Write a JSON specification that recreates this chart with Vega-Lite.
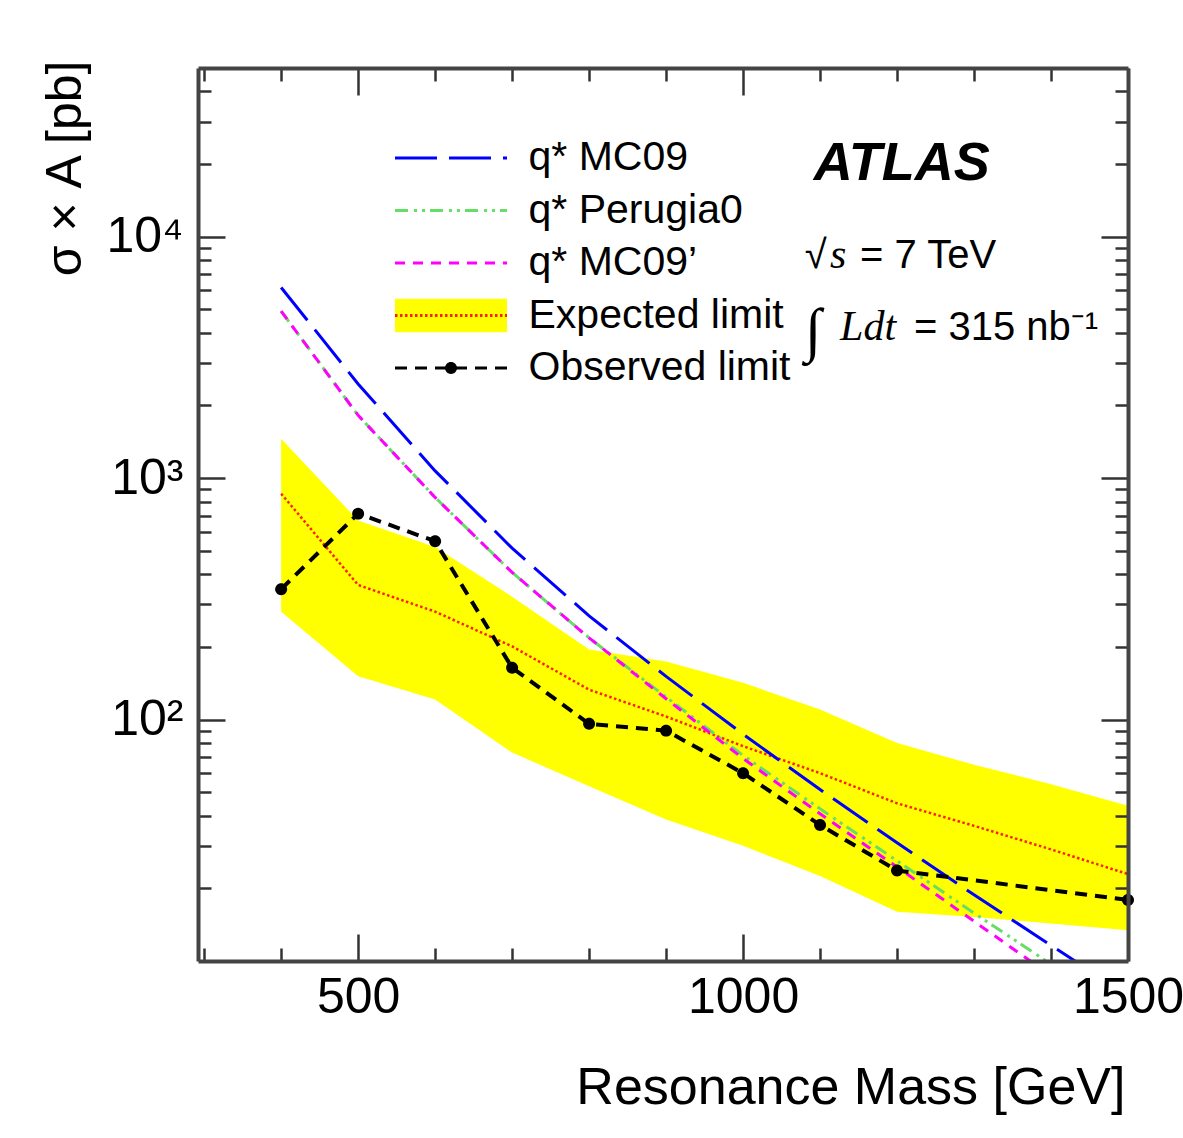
{
  "$schema": "https://vega.github.io/schema/vega-lite/v6.json",
  "width": 930,
  "height": 893,
  "autosize": {"type": "none"},
  "padding": {"left": 198, "top": 68, "right": 55, "bottom": 177},
  "background": "white",
  "config": {"view": {"stroke": null}, "font": "Liberation Sans"},
  "datasets": {
    "band": [
      {"m": 400, "lo": 280, "hi": 1455, "series": "Expected limit"},
      {"m": 500, "lo": 151, "hi": 668, "series": "Expected limit"},
      {"m": 600, "lo": 121, "hi": 519, "series": "Expected limit"},
      {"m": 700, "lo": 73, "hi": 323, "series": "Expected limit"},
      {"m": 800, "lo": 53, "hi": 195, "series": "Expected limit"},
      {"m": 900, "lo": 38.6, "hi": 174, "series": "Expected limit"},
      {"m": 1000, "lo": 30, "hi": 142, "series": "Expected limit"},
      {"m": 1100, "lo": 22.5, "hi": 110, "series": "Expected limit"},
      {"m": 1200, "lo": 16, "hi": 80, "series": "Expected limit"},
      {"m": 1300, "lo": 15.2, "hi": 65, "series": "Expected limit"},
      {"m": 1400, "lo": 14.3, "hi": 54, "series": "Expected limit"},
      {"m": 1500, "lo": 13.4, "hi": 44, "series": "Expected limit"}
    ],
    "lines": [
      {"m": 400, "sigma": 6166, "series": "q* MC09"},
      {"m": 500, "sigma": 2455, "series": "q* MC09"},
      {"m": 600, "sigma": 1072, "series": "q* MC09"},
      {"m": 700, "sigma": 513, "series": "q* MC09"},
      {"m": 800, "sigma": 269, "series": "q* MC09"},
      {"m": 900, "sigma": 151, "series": "q* MC09"},
      {"m": 1000, "sigma": 87, "series": "q* MC09"},
      {"m": 1100, "sigma": 51.3, "series": "q* MC09"},
      {"m": 1200, "sigma": 30.9, "series": "q* MC09"},
      {"m": 1300, "sigma": 18.8, "series": "q* MC09"},
      {"m": 1400, "sigma": 11.6, "series": "q* MC09"},
      {"m": 1500, "sigma": 7.2, "series": "q* MC09"},
      {"m": 400, "sigma": 4920, "series": "q* Perugia0"},
      {"m": 500, "sigma": 1820, "series": "q* Perugia0"},
      {"m": 600, "sigma": 832, "series": "q* Perugia0"},
      {"m": 700, "sigma": 407, "series": "q* Perugia0"},
      {"m": 800, "sigma": 218, "series": "q* Perugia0"},
      {"m": 900, "sigma": 124, "series": "q* Perugia0"},
      {"m": 1000, "sigma": 71, "series": "q* Perugia0"},
      {"m": 1100, "sigma": 42.7, "series": "q* Perugia0"},
      {"m": 1200, "sigma": 26, "series": "q* Perugia0"},
      {"m": 1300, "sigma": 15.8, "series": "q* Perugia0"},
      {"m": 1400, "sigma": 9.7, "series": "q* Perugia0"},
      {"m": 1500, "sigma": 5.9, "series": "q* Perugia0"},
      {"m": 400, "sigma": 4920, "series": "q* MC09’"},
      {"m": 500, "sigma": 1820, "series": "q* MC09’"},
      {"m": 600, "sigma": 832, "series": "q* MC09’"},
      {"m": 700, "sigma": 407, "series": "q* MC09’"},
      {"m": 800, "sigma": 218, "series": "q* MC09’"},
      {"m": 900, "sigma": 122, "series": "q* MC09’"},
      {"m": 1000, "sigma": 69, "series": "q* MC09’"},
      {"m": 1100, "sigma": 40.7, "series": "q* MC09’"},
      {"m": 1200, "sigma": 24.5, "series": "q* MC09’"},
      {"m": 1300, "sigma": 14.6, "series": "q* MC09’"},
      {"m": 1400, "sigma": 8.7, "series": "q* MC09’"},
      {"m": 1500, "sigma": 5.25, "series": "q* MC09’"},
      {"m": 400, "sigma": 862, "series": "Expected limit"},
      {"m": 500, "sigma": 361, "series": "Expected limit"},
      {"m": 600, "sigma": 280, "series": "Expected limit"},
      {"m": 700, "sigma": 201, "series": "Expected limit"},
      {"m": 800, "sigma": 133, "series": "Expected limit"},
      {"m": 900, "sigma": 103, "series": "Expected limit"},
      {"m": 1000, "sigma": 77.6, "series": "Expected limit"},
      {"m": 1100, "sigma": 60, "series": "Expected limit"},
      {"m": 1200, "sigma": 45, "series": "Expected limit"},
      {"m": 1300, "sigma": 36.3, "series": "Expected limit"},
      {"m": 1400, "sigma": 29, "series": "Expected limit"},
      {"m": 1500, "sigma": 22.9, "series": "Expected limit"},
      {"m": 400, "sigma": 347, "series": "Observed limit"},
      {"m": 500, "sigma": 713, "series": "Observed limit"},
      {"m": 600, "sigma": 548, "series": "Observed limit"},
      {"m": 700, "sigma": 164, "series": "Observed limit"},
      {"m": 800, "sigma": 96, "series": "Observed limit"},
      {"m": 900, "sigma": 90, "series": "Observed limit"},
      {"m": 1000, "sigma": 60, "series": "Observed limit"},
      {"m": 1100, "sigma": 36.6, "series": "Observed limit"},
      {"m": 1200, "sigma": 23.7, "series": "Observed limit"},
      {"m": 1500, "sigma": 17.9, "series": "Observed limit"}
    ]
  },
  "layer": [
    {
      "data": {"name": "band"},
      "mark": {"type": "area", "opacity": 1},
      "encoding": {
        "x": {
          "field": "m", "type": "quantitative",
          "scale": {"domain": [292, 1500], "nice": false, "zero": false},
          "axis": {
            "orient": "bottom",
            "values": [300, 400, 500, 600, 700, 800, 900, 1000, 1100, 1200, 1300, 1400, 1500],
            "labelExpr": "datum.value % 500 === 0 ? '' + datum.value : ''",
            "tickSize": {"condition": {"test": "datum.value % 500 === 0", "value": -27}, "value": -13},
            "tickColor": "#333333", "tickWidth": 2.5,
            "labelPadding": 38, "labelFont": "Liberation Sans", "labelFontSize": 50, "labelColor": "#000000",
            "labelFlush": false, "labelOverlap": false, "labelBound": false,
            "domain": true, "domainColor": "#444444", "domainWidth": 4,
            "grid": false, "zindex": 1,
            "title": "Resonance Mass [GeV]",
            "titleFont": "Liberation Sans", "titleFontSize": 52, "titleFontWeight": "normal", "titleColor": "#000000",
            "titleX": 927, "titleY": 142, "titleAlign": "right", "titleBaseline": "alphabetic", "titleAngle": 0
          }
        },
        "y": {
          "field": "lo", "type": "quantitative",
          "scale": {"type": "log", "domain": [10, 50000], "nice": false},
          "axis": {
            "orient": "left",
            "values": [20, 30, 40, 50, 60, 70, 80, 90, 100, 200, 300, 400, 500, 600, 700, 800, 900, 1000, 2000, 3000, 4000, 5000, 6000, 7000, 8000, 9000, 10000, 20000, 30000, 40000],
            "labelExpr": "datum.value === 100 ? '10\u00b2' : datum.value === 1000 ? '10\u00b3' : datum.value === 10000 ? '10\u2074' : ''",
            "tickSize": {"condition": {"test": "datum.value === 100 || datum.value === 1000 || datum.value === 10000", "value": -27}, "value": -13},
            "tickColor": "#333333", "tickWidth": 2.5,
            "labelPadding": 42, "labelFont": "Liberation Sans", "labelFontSize": 50, "labelColor": "#000000",
            "labelFlush": false, "labelOverlap": false, "labelBound": false,
            "domain": true, "domainColor": "#444444", "domainWidth": 4,
            "grid": false, "zindex": 1,
            "title": "σ × A [pb]",
            "titleFont": "Liberation Sans", "titleFontSize": 50, "titleFontWeight": "normal", "titleColor": "#000000",
            "titleX": -118, "titleY": -8, "titleAlign": "right", "titleBaseline": "alphabetic", "titleAngle": -90
          }
        },
        "y2": {"field": "hi"},
        "fill": {
          "field": "series", "type": "nominal",
          "scale": {"domain": ["Expected limit", "Observed limit"], "range": ["#ffff00", "#000000"]},
          "legend": {
            "orient": "none", "legendX": 197, "legendY": 226.5, "title": null, "padding": 0,
            "symbolSize": 12544, "symbolStrokeWidth": 0, "clipHeight": 42, "rowPadding": 10.5,
            "labelFontSize": 41, "labelOpacity": 0, "labelExpr": "''", "labelOffset": 19, "zindex": 1
          }
        }
      }
    },
    {
      "data": {"name": "lines"},
      "encoding": {
        "x": {
          "field": "m", "type": "quantitative",
          "axis": {
            "orient": "top",
            "values": [300, 400, 500, 600, 700, 800, 900, 1000, 1100, 1200, 1300, 1400, 1500],
            "labels": false,
            "tickSize": {"condition": {"test": "datum.value % 500 === 0", "value": -27}, "value": -13},
            "tickColor": "#333333", "tickWidth": 2.5,
            "domain": true, "domainColor": "#444444", "domainWidth": 4,
            "grid": false, "zindex": 1, "title": null
          }
        },
        "y": {
          "field": "sigma", "type": "quantitative",
          "axis": {
            "orient": "right",
            "values": [20, 30, 40, 50, 60, 70, 80, 90, 100, 200, 300, 400, 500, 600, 700, 800, 900, 1000, 2000, 3000, 4000, 5000, 6000, 7000, 8000, 9000, 10000, 20000, 30000, 40000],
            "labels": false,
            "tickSize": {"condition": {"test": "datum.value === 100 || datum.value === 1000 || datum.value === 10000", "value": -27}, "value": -13},
            "tickColor": "#333333", "tickWidth": 2.5,
            "domain": true, "domainColor": "#444444", "domainWidth": 4,
            "grid": false, "zindex": 1, "title": null
          }
        },
        "color": {
          "field": "series", "type": "nominal",
          "scale": {
            "domain": ["q* MC09", "q* Perugia0", "q* MC09’", "Expected limit", "Observed limit"],
            "range": ["#0000ff", "#66dd66", "#ff00ff", "#ff2000", "#000000"]
          },
          "legend": {
            "orient": "none", "legendX": 195.5, "legendY": 69, "title": null, "padding": 0,
            "symbolType": "stroke", "symbolSize": 12544, "symbolStrokeWidth": 3, "clipHeight": 42, "rowPadding": 10.5,
            "labelFont": "Liberation Sans", "labelFontSize": 41, "labelColor": "#000000", "labelOffset": 20, "labelLimit": 0,
            "zindex": 2
          }
        },
        "strokeDash": {
          "field": "series", "type": "nominal",
          "scale": {
            "domain": ["q* MC09", "q* Perugia0", "q* MC09’", "Expected limit", "Observed limit"],
            "range": [[42, 12], [13, 6, 3, 5, 3, 5], [10, 8], [2.5, 2.5], [12, 8]]
          },
          "legend": {
            "orient": "none", "legendX": 195.5, "legendY": 69, "title": null, "padding": 0,
            "symbolType": "stroke", "symbolSize": 12544, "symbolStrokeWidth": 3, "clipHeight": 42, "rowPadding": 10.5,
            "labelFont": "Liberation Sans", "labelFontSize": 41, "labelColor": "#000000", "labelOffset": 20, "labelLimit": 0,
            "zindex": 2
          }
        }
      },
      "layer": [
        {
          "transform": [{"filter": "datum.series === 'Expected limit'"}],
          "mark": {"type": "line", "strokeWidth": 2.5, "clip": true}
        },
        {
          "transform": [{"filter": "datum.series !== 'Expected limit' && datum.series !== 'Observed limit'"}],
          "mark": {"type": "line", "strokeWidth": 3, "clip": true}
        },
        {
          "transform": [{"filter": "datum.series === 'Observed limit'"}],
          "mark": {"type": "line", "strokeWidth": 4, "clip": true}
        }
      ]
    },
    {
      "data": {"name": "lines"},
      "transform": [{"filter": "datum.series === 'Observed limit'"}],
      "mark": {"type": "point", "filled": true, "opacity": 1, "color": "#000000", "size": 12544, "strokeWidth": 0},
      "encoding": {
        "x": {"field": "m", "type": "quantitative", "axis": null},
        "y": {"field": "sigma", "type": "quantitative", "axis": null},
        "shape": {
          "field": "series", "type": "nominal",
          "scale": {"domain": ["Expected limit", "Observed limit"], "range": ["M-1,-0.3H1V0.3H-1Z", "M-0.107,0A0.107,0.107,0,1,0,0.107,0A0.107,0.107,0,1,0,-0.107,0Z"]},
          "legend": {
            "orient": "none", "legendX": 197, "legendY": 226.5, "title": null, "padding": 0,
            "symbolSize": 12544, "symbolStrokeWidth": 0, "clipHeight": 42, "rowPadding": 10.5,
            "labelFontSize": 41, "labelOpacity": 0, "labelExpr": "''", "labelOffset": 19, "zindex": 1
          }
        }
      }
    },
    {
      "data": {"values": [{}]},
      "mark": {"type": "text", "text": "ATLAS", "font": "Liberation Sans", "fontSize": 54, "fontWeight": "bold", "fontStyle": "italic", "align": "center", "baseline": "alphabetic", "color": "#000000"},
      "encoding": {
        "x": {"datum": 1206, "type": "quantitative", "axis": null},
        "y": {"datum": 17180, "type": "quantitative", "axis": null}
      }
    },
    {
      "data": {"values": [{}]},
      "mark": {"type": "text", "text": "√", "font": "Liberation Sans", "fontSize": 40, "align": "left", "baseline": "alphabetic", "color": "#000000"},
      "encoding": {
        "x": {"datum": 1080, "type": "quantitative", "axis": null},
        "y": {"datum": 7420, "type": "quantitative", "axis": null}
      }
    },
    {
      "data": {"values": [{}]},
      "mark": {"type": "text", "text": "s", "font": "Liberation Serif", "fontSize": 42, "fontStyle": "italic", "align": "left", "baseline": "alphabetic", "color": "#000000"},
      "encoding": {
        "x": {"datum": 1113, "type": "quantitative", "axis": null},
        "y": {"datum": 7420, "type": "quantitative", "axis": null}
      }
    },
    {
      "data": {"values": [{}]},
      "mark": {"type": "text", "text": "= 7 TeV", "font": "Liberation Sans", "fontSize": 40, "align": "left", "baseline": "alphabetic", "color": "#000000"},
      "encoding": {
        "x": {"datum": 1152, "type": "quantitative", "axis": null},
        "y": {"datum": 7420, "type": "quantitative", "axis": null}
      }
    },
    {
      "data": {"values": [{}]},
      "mark": {"type": "text", "text": "∫", "font": "Liberation Serif", "fontSize": 60, "align": "left", "baseline": "alphabetic", "color": "#000000"},
      "encoding": {
        "x": {"datum": 1080, "type": "quantitative", "axis": null},
        "y": {"datum": 3393, "type": "quantitative", "axis": null}
      }
    },
    {
      "data": {"values": [{}]},
      "mark": {"type": "text", "text": "Ldt", "font": "Liberation Serif", "fontSize": 42, "fontStyle": "italic", "align": "left", "baseline": "alphabetic", "color": "#000000"},
      "encoding": {
        "x": {"datum": 1126, "type": "quantitative", "axis": null},
        "y": {"datum": 3733, "type": "quantitative", "axis": null}
      }
    },
    {
      "data": {"values": [{}]},
      "mark": {"type": "text", "text": "= 315 nb⁻¹", "font": "Liberation Sans", "fontSize": 40, "align": "left", "baseline": "alphabetic", "color": "#000000"},
      "encoding": {
        "x": {"datum": 1222, "type": "quantitative", "axis": null},
        "y": {"datum": 3733, "type": "quantitative", "axis": null}
      }
    }
  ],
  "resolve": {"axis": {"x": "independent", "y": "independent"}}
}
